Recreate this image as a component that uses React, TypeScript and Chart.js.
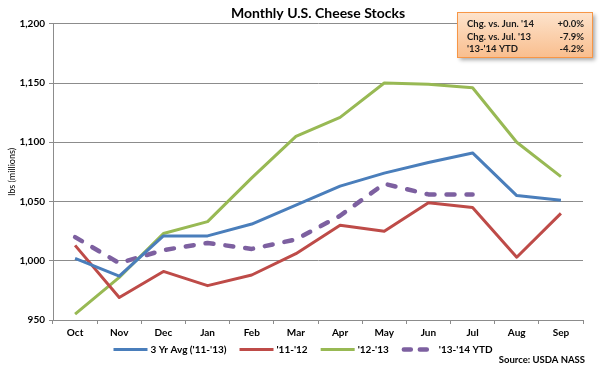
import React, { useEffect, useRef } from "react";
import { Chart, registerables } from "chart.js";

Chart.register(...registerables);

const categories = ["Oct", "Nov", "Dec", "Jan", "Feb", "Mar", "Apr", "May", "Jun", "Jul", "Aug", "Sep"];
const avg3yr = [1002, 987, 1021, 1021, 1031, 1047, 1063, 1074, 1083, 1091, 1055, 1051];
const y1112 = [1013, 969, 991, 979, 988, 1006, 1030, 1025, 1049, 1045, 1003, 1040];
const y1213 = [955, 986, 1023, 1033, 1070, 1105, 1121, 1150, 1149, 1146, 1100, 1071];
const y1314: (number | null)[] = [1020, 998, 1009, 1015, 1010, 1018, 1038, 1065, 1056, 1056, null, null];
const seriesLabels = ["3 Yr Avg ('11-'13)", "'11-'12", "'12-'13", "'13-'14 YTD"];
const seriesColors = ["#4A7EBB", "#BE4B48", "#98B954", "#7D60A0"];
const yMin = 950;
const yMax = 1200;
const yStep = 50;
const titleText = "Monthly U.S. Cheese Stocks";
const yTitle = "lbs (millions)";
const sourceText = "Source: USDA NASS";
const boxLabels = ["Chg. vs. Jun. '14", "Chg. vs. Jul. '13", "'13-'14 YTD"];
const boxValues = ["+0.0%", "-7.9%", "-4.2%"];

const FONT = "Lato, 'Liberation Sans', sans-serif";

const overlayPlugin = {
  id: "overlay",
  afterDraw(chart: any) {
    const ctx = chart.ctx as CanvasRenderingContext2D;
    // annotation box
    ctx.save();
    const bx = 457.5, by = 12.5, bw = 135, bh = 45;
    ctx.shadowColor = "rgba(0,0,0,0.35)";
    ctx.shadowBlur = 4;
    ctx.shadowOffsetX = 2;
    ctx.shadowOffsetY = 2;
    const grad = ctx.createLinearGradient(0, by, 0, by + bh);
    grad.addColorStop(0, "#FDE3CC");
    grad.addColorStop(1, "#F9BE8E");
    ctx.fillStyle = grad;
    ctx.fillRect(bx, by, bw, bh);
    ctx.shadowColor = "transparent";
    ctx.strokeStyle = "#F79646";
    ctx.lineWidth = 1;
    ctx.strokeRect(bx, by, bw, bh);
    ctx.fillStyle = "#1a1a1a";
    ctx.font = `bold 9.5px ${FONT}`;
    ctx.textBaseline = "middle";
    boxLabels.forEach((t, i) => {
      const yy = 24 + i * 12.5;
      ctx.textAlign = "left";
      ctx.fillText(t, 467, yy);
      ctx.textAlign = "right";
      ctx.fillText(boxValues[i], 584, yy);
    });
    ctx.restore();

    // legend
    ctx.save();
    ctx.font = `bold 10px ${FONT}`;
    ctx.textBaseline = "middle";
    ctx.textAlign = "left";
    const lineLen = 34, gapText = 3, gapItem = 13;
    const ds = chart.data.datasets;
    const widths = ds.map((d: any) => lineLen + gapText + ctx.measureText(d.label).width);
    const total = widths.reduce((a: number, b: number) => a + b, 0) + gapItem * (ds.length - 1);
    let x = 303 - total / 2;
    const ly = 349.5;
    ds.forEach((d: any, i: number) => {
      ctx.save();
      ctx.strokeStyle = d.borderColor;
      ctx.lineWidth = d.borderWidth;
      ctx.lineCap = d.borderDash && d.borderDash.length ? "round" : "butt";
      ctx.setLineDash(d.borderDash && d.borderDash.length ? [7, 9] : []);
      ctx.beginPath();
      const inset = d.borderDash && d.borderDash.length ? 2 : 0;
      ctx.moveTo(x + inset, ly);
      ctx.lineTo(x + lineLen - inset, ly);
      ctx.stroke();
      ctx.restore();
      ctx.fillStyle = "#000";
      ctx.fillText(d.label, x + lineLen + gapText, ly);
      x += widths[i] + gapItem;
    });
    // source
    ctx.textAlign = "right";
    ctx.font = `bold 9.5px ${FONT}`;
    ctx.fillStyle = "#000";
    ctx.fillText(sourceText, 585, 360);
    ctx.restore();
  },
};

export default function App() {
  const ref = useRef<HTMLCanvasElement>(null);
  useEffect(() => {
    document.body.style.margin = "0";
    const canvas = ref.current;
    if (!canvas) return;
    const grid = "#8C8C8C";
    const chart = new Chart(canvas, {
      type: "line",
      data: {
        labels: categories,
        datasets: [
          { label: seriesLabels[0], data: avg3yr, borderColor: seriesColors[0], backgroundColor: seriesColors[0], borderWidth: 3, pointRadius: 0, tension: 0, borderJoinStyle: "round" },
          { label: seriesLabels[1], data: y1112, borderColor: seriesColors[1], backgroundColor: seriesColors[1], borderWidth: 3, pointRadius: 0, tension: 0, borderJoinStyle: "round" },
          { label: seriesLabels[2], data: y1213, borderColor: seriesColors[2], backgroundColor: seriesColors[2], borderWidth: 3, pointRadius: 0, tension: 0, borderJoinStyle: "round" },
          { label: seriesLabels[3], data: y1314, borderColor: seriesColors[3], backgroundColor: seriesColors[3], borderWidth: 4.5, borderDash: [8, 12], borderCapStyle: "round", pointRadius: 0, tension: 0, borderJoinStyle: "round" },
        ],
      } as any,
      options: {
        animation: false,
        responsive: false,
        layout: { padding: { left: 0, right: 17, top: 0, bottom: 30 } },
        plugins: {
          legend: { display: false },
          tooltip: { enabled: false },
          title: {
            display: true,
            text: titleText,
            fullSize: false,
            color: "#000",
            font: { family: FONT, size: 14, weight: "bold" },
            padding: { top: 5, bottom: 2 },
          },
        },
        scales: {
          x: {
            offset: true,
            grid: { display: true, offset: true, drawOnChartArea: false, drawTicks: true, tickLength: 4, color: grid },
            border: { display: true, color: grid, width: 1 },
            ticks: { color: "#000", padding: 3, maxRotation: 0, font: { family: FONT, size: 10, weight: "bold" } },
            afterFit: (s: any) => { s.height = 19; },
          },
          y: {
            min: yMin,
            max: yMax,
            grid: { color: grid, tickLength: 4, drawTicks: true },
            border: { display: true, color: grid, width: 1 },
            ticks: {
              stepSize: yStep,
              color: "#000",
              padding: 4,
              font: { family: FONT, size: 10, weight: "bold" },
              callback: (v: any) => Number(v).toLocaleString("en-US"),
            },
            title: {
              display: true,
              text: yTitle,
              color: "#000",
              font: { family: FONT, size: 9 },
              padding: { top: 7, bottom: 0 },
            },
            afterFit: (s: any) => { s.width = 53; },
          },
        },
      } as any,
      plugins: [overlayPlugin],
    });
    return () => chart.destroy();
  }, []);
  return (
    <div style={{ width: 600, height: 369, background: "#fff" }}>
      <canvas ref={ref} width={600} height={369} style={{ display: "block" }} />
    </div>
  );
}
